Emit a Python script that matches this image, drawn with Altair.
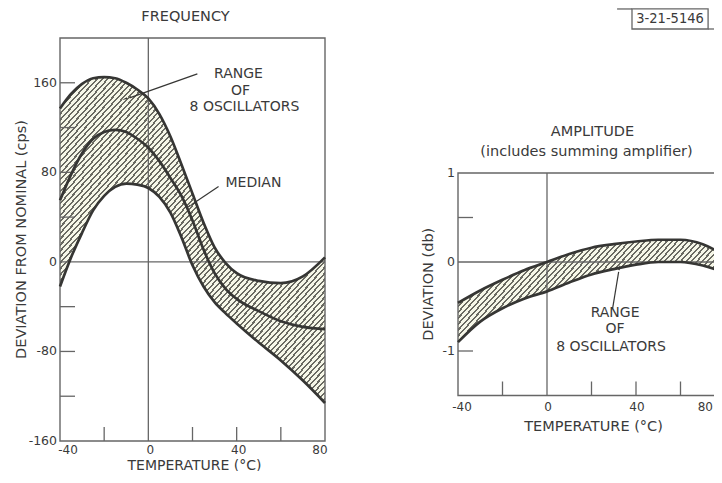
import math
import altair as alt
import pandas as pd

# ---------------- data ----------------
freq_temp = [-40, -35, -30, -25, -20, -15, -10, -5, 0, 5, 10, 15, 20, 25, 30, 35, 40, 50, 60, 70, 80]
freq_upper = [137, 150, 159, 164, 165, 164, 160, 154, 146, 132, 112, 87, 61, 35, 13, -1, -10, -17, -19, -13, 4]
freq_median = [55, 78, 97, 110, 116, 118, 116, 110, 102, 90, 75, 59, 37, 11, -10, -24, -33, -44, -53, -58, -60]
freq_lower = [-22, 4, 26, 46, 59, 67, 70, 69, 66, 58, 44, 22, -3, -22, -36, -46, -55, -72, -88, -106, -126]

amp_temp = [-40, -30, -20, -10, 0, 10, 20, 30, 40, 50, 60, 70, 80]
amp_upper = [-0.46, -0.32, -0.20, -0.09, 0.0, 0.09, 0.16, 0.20, 0.23, 0.25, 0.25, 0.20, 0.07]
amp_lower = [-0.90, -0.67, -0.52, -0.41, -0.33, -0.23, -0.14, -0.08, -0.03, 0.0, 0.0, -0.04, -0.12]

freq_y_ticks = [-120, -80, -40, 40, 80, 120, 160]
freq_y_labels = [-160, -80, 0, 80, 160]
amp_y_ticks = [0.5, -1]
amp_y_labels = [1, 0, -1]
x_minor_ticks = [-20, 20, 40, 60]
x_labels = [-40, 0, 40, 80]

# ---------------- layout / style ----------------
FONT = "DejaVu Sans"
TXT = "#3a3a3a"
CURVE = "#363634"
FRAME = "#666666"
HATCH_DARK = "#6a6a62"
HATCH_LIGHT = "#f6f7e8"

W, H = 706, 463
L_XDOM, L_XRNG = [-40, 80], [52, 317]
L_YDOM, L_YRNG = [-160, 200], [433, 30]
R_XDOM, R_XRNG = [-40, 80], [450, 717]
R_YDOM, R_YRNG = [-1.5, 1], [387.5, 165]

PANELS = {
    "L": (L_XDOM, L_XRNG, L_YDOM, L_YRNG),
    "R": (R_XDOM, R_XRNG, R_YDOM, R_YRNG),
}


def px_per_unit(dom, rng):
    return abs(rng[1] - rng[0]) / (dom[1] - dom[0])


def X(panel, field):
    d, r, _, _ = PANELS[panel]
    return alt.X(field, type="quantitative", axis=None,
                 scale=alt.Scale(domain=d, range=r, nice=False, zero=False))


def Y(panel, field):
    _, _, d, r = PANELS[panel]
    return alt.Y(field, type="quantitative", axis=None,
                 scale=alt.Scale(domain=d, range=r, nice=False, zero=False))


def hatch(w, h, p=4.0, theta=48.0, frac=0.38):
    s, c = math.sin(math.radians(theta)), math.cos(math.radians(theta))
    a, b = w * s, h * c
    k = (a + b) / (a * a + b * b)
    n = max(1, round((a + b) / p))
    stops = []
    for i in range(n):
        o0, o1, o2 = i / n, (i + frac) / n, (i + 1) / n
        stops += [
            alt.GradientStop(color=HATCH_DARK, offset=o0),
            alt.GradientStop(color=HATCH_DARK, offset=o1),
            alt.GradientStop(color=HATCH_LIGHT, offset=o1),
            alt.GradientStop(color=HATCH_LIGHT, offset=o2),
        ]
    return alt.Gradient(gradient="linear", stops=stops, x1=0, y1=0, x2=k * a, y2=k * b)


def txt(panel, xs, ys, labels, size=13, dx=0, dy=0, align="center", angle=0, font=FONT):
    df = pd.DataFrame({"x": xs, "y": ys, "label": labels})
    return alt.Chart(df).mark_text(
        font=font, fontSize=size, color=TXT, align=align, baseline="middle",
        dx=dx, dy=dy, angle=angle,
    ).encode(x=X(panel, "x"), y=Y(panel, "y"), text="label:N")


def rules(panel, x0, x1, y0, y1, color=FRAME, width=1.3):
    df = pd.DataFrame({"x0": x0, "x1": x1, "y0": y0, "y1": y1})
    return alt.Chart(df).mark_rule(color=color, strokeWidth=width).encode(
        x=X(panel, "x0"), x2="x1", y=Y(panel, "y0"), y2="y1")


def arrow_head(panel, x0, y0, x1, y1):
    d, r, yd, yr = PANELS[panel]
    sx, sy = px_per_unit(d, r), px_per_unit(yd, yr)
    dxp, dyp = (x1 - x0) * sx, -(y1 - y0) * sy
    ang = math.degrees(math.atan2(dxp, -dyp)) % 360
    df = pd.DataFrame({"x": [x1], "y": [y1]})
    return alt.Chart(df).mark_point(shape="wedge", filled=True, size=45, color=CURVE,
                                    angle=ang, opacity=1).encode(
        x=X(panel, "x"), y=Y(panel, "y"))


def panel_layers(panel, temp, upper, lower, median, yticks, ylabels, ylabel_fmt):
    xd, xr, yd, yr = PANELS[panel]
    sx, sy = px_per_unit(xd, xr), px_per_unit(yd, yr)
    df = pd.DataFrame({"t": temp, "upper": upper, "lower": lower})
    if median is not None:
        df["median"] = median
    w = (max(temp) - min(temp)) * sx
    h = (max(upper) - min(lower)) * sy
    area = alt.Chart(df).mark_area(color=hatch(w, h), interpolate="monotone").encode(
        x=X(panel, "t"), y=Y(panel, "upper"), y2="lower")
    zero = rules(panel, [0, xd[0]], [0, xd[1]], [yd[0], 0], [yd[1], 0])
    box = alt.Chart(pd.DataFrame({"x0": [xd[0]], "x1": [xd[1]], "y0": [yd[0]], "y1": [yd[1]]})).mark_rect(
        fillOpacity=0, stroke=FRAME, strokeWidth=1.4).encode(
        x=X(panel, "x0"), x2="x1", y=Y(panel, "y0"), y2="y1")
    ytk = rules(panel, [xd[0]] * len(yticks), [xd[0] + 15 / sx] * len(yticks), yticks, yticks)
    xtk = rules(panel, x_minor_ticks, x_minor_ticks,
                [yd[0]] * len(x_minor_ticks), [yd[0] + 14 / sy] * len(x_minor_ticks))
    curves = []
    for f in ["upper", "median", "lower"]:
        if f in df:
            curves.append(alt.Chart(df).mark_line(color=CURVE, strokeWidth=2.7, interpolate="monotone").encode(
                x=X(panel, "t"), y=Y(panel, f)))
    ylab = txt(panel, [xd[0]] * len(ylabels), ylabels, [ylabel_fmt(v) for v in ylabels],
               size=12.5, dx=-3, align="right")
    return [area, zero, box, ytk, xtk] + curves + [ylab]


# ---------------- left panel: FREQUENCY ----------------
left = panel_layers("L", freq_temp, freq_upper, freq_lower, freq_median,
                    freq_y_ticks, freq_y_labels, lambda v: str(v))
left += [
    txt("L", [x_labels[0]], [-160], [str(x_labels[0])], size=12, dx=8, dy=8.5),
    txt("L", x_labels[1:3], [-160] * 2, [str(v) for v in x_labels[1:3]], size=12, dx=2, dy=8.5),
    txt("L", [x_labels[3]], [-160], [str(x_labels[3])], size=12, dx=-5, dy=8.5),
    txt("L", [20], [-160], ["TEMPERATURE (°C)"], size=14, dx=2, dy=24.5),
    txt("L", [20], [200], ["FREQUENCY"], size=14.5, dx=-7, dy=-21),
    txt("L", [-40], [20], ["DEVIATION FROM NOMINAL (cps)"], size=14.5, dy=-38, angle=270),
    txt("L", [40.8, 41.7, 43.5], [168, 152.8, 138.5], ["RANGE", "OF", "8 OSCILLATORS"], size=14),
    txt("L", [47.6], [70.6], ["MEDIAN"], size=14),
    rules("L", [22.2], [-8.5], [168], [146.5], color=CURVE, width=1.2),
    arrow_head("L", 22.2, 168, -10.4, 145.7),
    rules("L", [31.8], [19.5], [67.3], [51.0], color=CURVE, width=1.2),
    arrow_head("L", 31.8, 67.3, 18.4, 49.6),
]

# ---------------- right panel: AMPLITUDE ----------------
right = panel_layers("R", amp_temp, amp_upper, amp_lower, None,
                     amp_y_ticks, amp_y_labels, lambda v: str(v))
right += [
    txt("R", [x_labels[0]], [-1.5], [str(x_labels[0])], size=12, dx=4, dy=11),
    txt("R", x_labels[1:3], [-1.5] * 2, [str(v) for v in x_labels[1:3]], size=12, dx=1, dy=11),
    txt("R", [x_labels[3]], [-1.5], [str(x_labels[3])], size=12, dx=-12, dy=11, align="right"),
    txt("R", [20], [-1.5], ["TEMPERATURE (°C)"], size=14.5, dx=2, dy=31.5),
    txt("R", [20], [1], ["AMPLITUDE"], size=14.5, dx=1, dy=-41),
    txt("R", [20], [1], ["(includes summing amplifier)"], size=14.5, dx=-5, dy=-21),
    txt("R", [-40], [-0.25], ["DEVIATION (db)"], size=14.5, dy=-29, angle=270),
    txt("R", [30.6, 30.6, 28.8], [-0.573, -0.753, -0.955], ["RANGE", "OF", "8 OSCILLATORS"], size=14),
    rules("R", [29.5], [32.2], [-0.52], [-0.11], color=CURVE, width=1.2),
    arrow_head("R", 29.5, -0.52, 32.5, -0.07),
    # drawing-number stamp
    alt.Chart(pd.DataFrame({"x0": [38.2], "x1": [72.4], "y0": [2.618], "y1": [2.843]})).mark_rect(
        fillOpacity=0, stroke=FRAME, strokeWidth=1.3).encode(
        x=X("R", "x0"), x2="x1", y=Y("R", "y0"), y2="y1"),
    rules("R", [31.5, 72.4], [38.2, 80], [2.843, 2.618], [2.843, 2.618]),
    txt("R", [55.3], [2.73], ["3-21-5146"], size=14.5, font="DejaVu Sans Condensed"),
]

chart = alt.layer(
    alt.layer(*left),
    alt.layer(*right),
).resolve_scale(x="independent", y="independent").properties(
    width=W, height=H, padding=0, autosize="none", background="white",
).configure_view(stroke=None)

chart.save("out.html", embed_options={"renderer": "svg", "actions": False})
